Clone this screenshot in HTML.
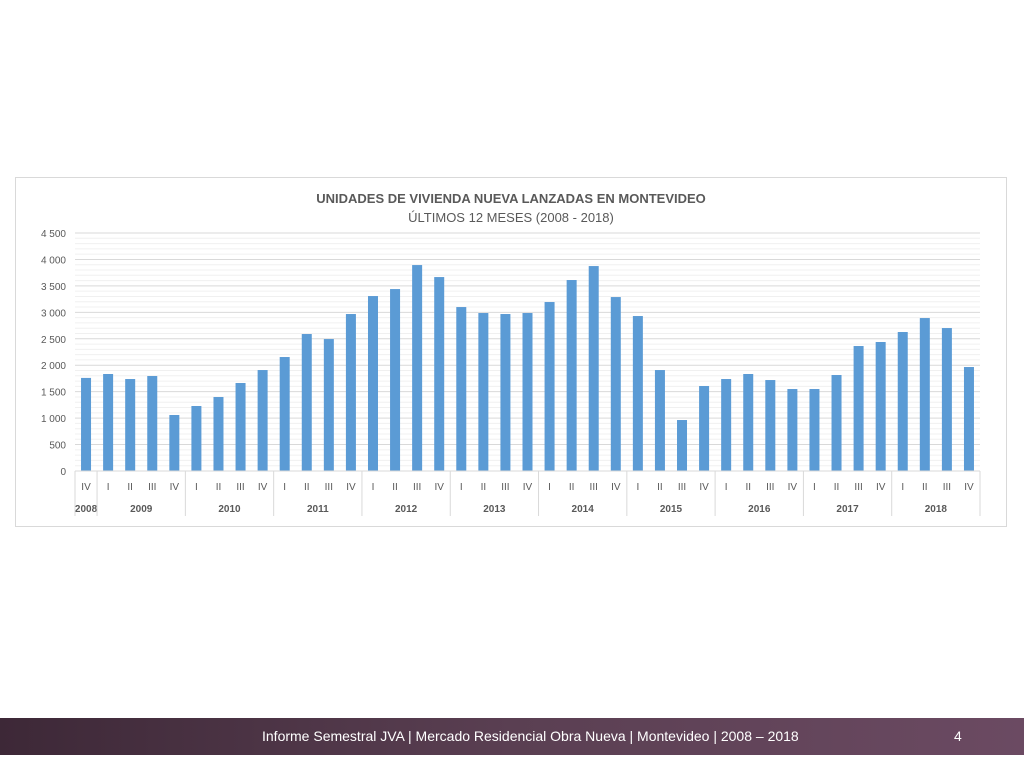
<!DOCTYPE html>
<html><head><meta charset="utf-8"><style>
body{margin:0;width:1024px;height:768px;background:#fff;position:relative;overflow:hidden;font-family:"Liberation Sans",sans-serif}
#footer{position:absolute;left:0;top:718px;width:1024px;height:37px;background:linear-gradient(90deg,#3d2837,#5a3f52 50%,#6b4a62);color:#fff}
#footer span{position:absolute;top:10px;font-family:"Liberation Sans Narrow","Liberation Sans",sans-serif;font-size:14px}
</style></head><body>
<svg width="1024" height="768" style="position:absolute;left:0;top:0" id="svg" font-family="Liberation Sans, sans-serif">
<rect x="15.5" y="177.5" width="991" height="349" fill="#fff" stroke="#d9d9d9"/>
<text x="511" y="203" text-anchor="middle" font-size="13" font-weight="bold" fill="#595959">UNIDADES DE VIVIENDA NUEVA LANZADAS EN MONTEVIDEO</text>
<text x="511" y="222" text-anchor="middle" font-size="13" fill="#595959">ÚLTIMOS 12 MESES (2008 - 2018)</text>
<g id="grid"></g><g id="bars"></g><g id="axis"></g>
</svg>
<div id="footer">
<span style="left:262px">Informe Semestral JVA | Mercado Residencial Obra Nueva | Montevideo | 2008 – 2018</span>
<span style="left:954px">4</span>
</div>
<script>
const quarters=["IV","I","II","III","IV","I","II","III","IV","I","II","III","IV","I","II","III","IV","I","II","III","IV","I","II","III","IV","I","II","III","IV","I","II","III","IV","I","II","III","IV","I","II","III","IV"];
const values=[1760,1834,1739,1796,1059,1229,1399,1664,1909,2155,2590,2495,2968,3308,3440,3894,3667,3100,2987,2968,2987,3195,3611,3875,3289,2930,1909,964,1607,1739,1834,1720,1550,1550,1815,2363,2439,2628,2892,2703,1966];
const years=["2008","2009","2010","2011","2012","2013","2014","2015","2016","2017","2018"];
const yearCounts=[1,4,4,4,4,4,4,4,4,4,4];
const yTicks=[0,500,1000,1500,2000,2500,3000,3500,4000,4500];
const NS="http://www.w3.org/2000/svg";
const x0=75,x1=980,y0=471,yTop=233,yMax=4500;
const step=(x1-x0)/values.length;
const y=v=>y0-(v/yMax)*(y0-yTop);
const xc=i=>x0+step*(i+0.5);
function mk(t,a,p){const e=document.createElementNS(NS,t);for(const k in a)e.setAttribute(k,a[k]);p.appendChild(e);return e;}
const grid=document.getElementById('grid'),bars=document.getElementById('bars'),axis=document.getElementById('axis');
for(let v=100;v<yMax;v+=100){if(v%500)continue;}
for(let v=0;v<=yMax;v+=100){
 const major=v%500===0;
 const l=mk('line',{x1:x0,x2:x1,y1:y(v),y2:y(v),stroke:major?'#d9d9d9':'#f0f0f0','stroke-width':1},grid);
 
 
}
yTicks.forEach(v=>{
 const t=mk('text',{x:66,y:y(v)+4,'text-anchor':'end','font-size':10,fill:'#595959'},axis);
 t.textContent=v.toLocaleString('fr-FR').replace(/\u202f|\u00a0/g,' ');
 
 
});
values.forEach((v,i)=>{
 const r=mk('rect',{x:xc(i)-5,y:y(v),width:10,height:y0-y(v),fill:'#5b9bd5'},bars);
 
 
 const t=mk('text',{x:xc(i),y:490,'text-anchor':'middle','font-size':10,fill:'#595959'},axis);
 t.textContent=quarters[i];
 
 
});
const base=mk('line',{x1:x0,x2:x1,y1:y0,y2:y0,stroke:'#d9d9d9'},axis);


let idx=0;
years.forEach((yr,k)=>{
 const s=idx,e=idx+yearCounts[k];
 const xs=x0+step*s,xe=x0+step*e;
 const t=mk('text',{x:(xs+xe)/2,y:512,'text-anchor':'middle','font-size':10,'font-weight':'bold',fill:'#595959'},axis);
 t.textContent=yr;
 
 
 const l=mk('line',{x1:xs,x2:xs,y1:y0,y2:516,stroke:'#d9d9d9'},axis);
 
 
 idx=e;
});
const le=mk('line',{x1:x1,x2:x1,y1:y0,y2:516,stroke:'#d9d9d9'},axis);


</script>
</body></html>
